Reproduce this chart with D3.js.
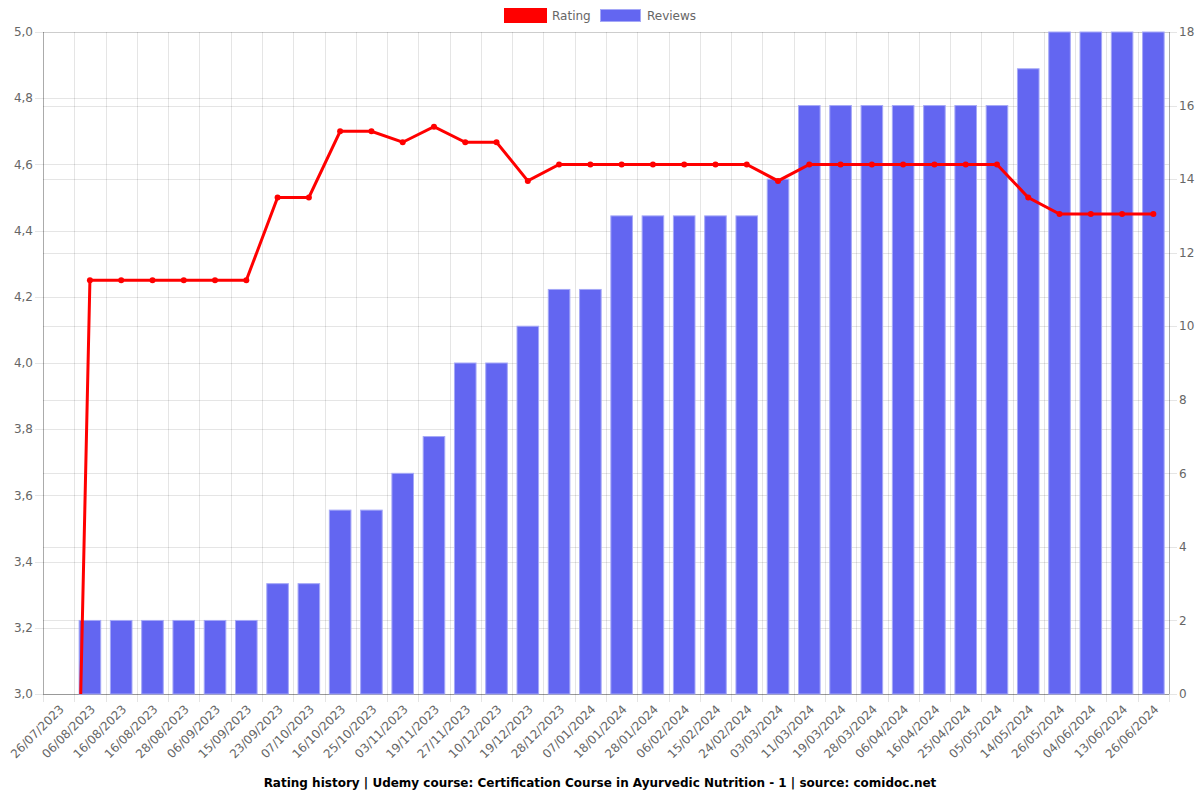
<!DOCTYPE html>
<html><head><meta charset="utf-8">
<script src="https://cdn.jsdelivr.net/npm/d3@7/dist/d3.min.js"></script>
<style>body{margin:0;background:#fff}svg{display:block}text{font-family:"DejaVu Sans",sans-serif}</style>
</head><body><svg id="c" width="1200" height="800"></svg>
<script>
const dates = ["26/07/2023","06/08/2023","16/08/2023","16/08/2023","28/08/2023","06/09/2023","15/09/2023","23/09/2023","07/10/2023","16/10/2023","25/10/2023","03/11/2023","19/11/2023","27/11/2023","10/12/2023","19/12/2023","28/12/2023","07/01/2024","18/01/2024","28/01/2024","06/02/2024","15/02/2024","24/02/2024","03/03/2024","11/03/2024","19/03/2024","28/03/2024","06/04/2024","16/04/2024","25/04/2024","05/05/2024","14/05/2024","26/05/2024","04/06/2024","13/06/2024","26/06/2024"];
const rating = [0,4.25,4.25,4.25,4.25,4.25,4.25,4.5,4.5,4.7,4.7,4.667,4.714,4.667,4.667,4.55,4.6,4.6,4.6,4.6,4.6,4.6,4.6,4.55,4.6,4.6,4.6,4.6,4.6,4.6,4.6,4.5,4.45,4.45,4.45,4.45];
const reviews = [0,2,2,2,2,2,2,3,3,5,5,6,7,9,9,10,11,11,13,13,13,13,13,14,16,16,16,16,16,16,16,17,18,18,18,18];
const leftTicks = [3.0,3.2,3.4,3.6,3.8,4.0,4.2,4.4,4.6,4.8,5.0];
const rightTicks = [0,2,4,6,8,10,12,14,16,18];
const titleText = "Rating history | Udemy course: Certification Course in Ayurvedic Nutrition - 1 | source: comidoc.net";

const svg = d3.select("#c");
const L = 43, R = 1169, T = 32, B = 694;
const x = d3.scaleBand().domain(d3.range(dates.length)).range([L, R]);
const yL = d3.scaleLinear().domain([3, 5]).range([B, T]);
const yR = d3.scaleLinear().domain([0, 18]).range([B, T]);
const grid = "rgba(0,0,0,0.1)";

// grid
const g = svg.append("g");
dates.forEach((d,i)=>{
  g.append("line").attr("x1",Math.round(x(i))+0.5).attr("x2",Math.round(x(i))+0.5).attr("y1",T).attr("y2",B+8).attr("stroke",grid);
});
g.append("line").attr("x1",R+0.5).attr("x2",R+0.5).attr("y1",T).attr("y2",B+8).attr("stroke",grid);
leftTicks.forEach(v=>{
  g.append("line").attr("x1",L-8).attr("x2",R).attr("y1",Math.round(yL(v))+0.5).attr("y2",Math.round(yL(v))+0.5).attr("stroke",grid);
});
rightTicks.forEach(v=>{
  g.append("line").attr("x1",L).attr("x2",R+8).attr("y1",Math.round(yR(v))+0.5).attr("y2",Math.round(yR(v))+0.5).attr("stroke",grid);
});
// axis lines
svg.append("line").attr("x1",L+0.5).attr("x2",L+0.5).attr("y1",T).attr("y2",B).attr("stroke","rgba(0,0,0,0.25)");
svg.append("line").attr("x1",R+0.5).attr("x2",R+0.5).attr("y1",T).attr("y2",B).attr("stroke","rgba(0,0,0,0.25)");
svg.append("line").attr("x1",L).attr("x2",R).attr("y1",B+0.5).attr("y2",B+0.5).attr("stroke","rgba(0,0,0,0.25)");

// tick labels
const fmt = d3.format(".1f");
svg.append("g").selectAll("text").data(leftTicks).join("text")
  .attr("x",L-10).attr("y",d=>yL(d)).attr("dy","0.35em").attr("text-anchor","end")
  .attr("font-size",12).attr("fill","#666").text(d=>fmt(d).replace(".",","));
svg.append("g").selectAll("text").data(rightTicks).join("text")
  .attr("x",R+10).attr("y",d=>yR(d)).attr("dy","0.35em").attr("text-anchor","start")
  .attr("font-size",12).attr("fill","#666").text(d=>d);
svg.append("g").selectAll("text").data(dates).join("text")
  .attr("transform",(d,i)=>`translate(${x(i)+x.bandwidth()/2+3},${B+13}) rotate(-45)`)
  .attr("text-anchor","end").attr("dy","0.35em")
  .attr("font-size",12).attr("fill","#666").text(d=>d);

// bars
const bw = x.bandwidth()*0.69;
svg.append("g").selectAll("rect").data(reviews).join("rect")
  .attr("x",(d,i)=>x(i)+(x.bandwidth()-bw)/2).attr("width",bw)
  .attr("y",d=>yR(d)).attr("height",d=>B-yR(d))
  .attr("fill","#6366f1").attr("stroke","#a5a8f7").attr("stroke-width",1);

// line
svg.append("clipPath").attr("id","clip").append("rect").attr("x",L).attr("y",T-5).attr("width",R-L).attr("height",B-T+5);
const cx = i=>x(i)+x.bandwidth()/2;
const lg = svg.append("g").attr("clip-path","url(#clip)");
lg.append("path").datum(rating)
  .attr("d",d3.line().x((d,i)=>cx(i)).y(d=>yL(d)))
  .attr("fill","none").attr("stroke","#ff0000").attr("stroke-width",3);
lg.selectAll("circle").data(rating).join("circle")
  .attr("cx",(d,i)=>cx(i)).attr("cy",d=>yL(d)).attr("r",3).attr("fill","#ff0000");

// legend
const leg = svg.append("g");
leg.append("rect").attr("x",505.5).attr("y",9.5).attr("width",40).attr("height",12).attr("fill","#ff0000").attr("stroke","#ff0000").attr("stroke-width",3);
leg.append("text").attr("x",552).attr("y",16).attr("dy","0.35em").attr("font-size",12).attr("fill","#666").text("Rating");
leg.append("rect").attr("x",600.5).attr("y",9.5).attr("width",40).attr("height",12).attr("fill","#6366f1").attr("stroke","#a5a8f7");
leg.append("text").attr("x",647).attr("y",16).attr("dy","0.35em").attr("font-size",12).attr("fill","#666").text("Reviews");

// title
svg.append("text").attr("x",600).attr("y",783).attr("dy","0.35em").attr("text-anchor","middle")
  .attr("font-size",12).attr("font-weight","bold").attr("fill","#000").text(titleText);
</script></body></html>
